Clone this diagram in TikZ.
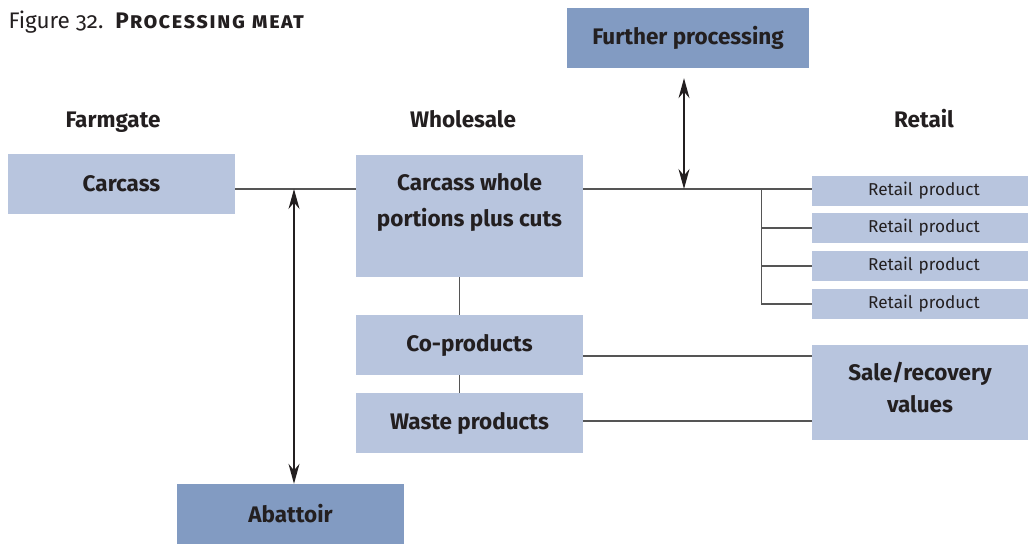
\documentclass[tikz,border=0pt]{standalone}
\usepackage{fontspec}
\setmainfont{Fira Sans}
\usetikzlibrary{arrows.meta,positioning}

\definecolor{boxlight}{RGB}{184,197,222}
\definecolor{boxdark}{RGB}{130,155,194}
\definecolor{inkdark}{RGB}{35,31,32}
\definecolor{linegrey}{RGB}{85,85,85}

\tikzset{
  box/.style={fill=boxlight, minimum width=227pt, minimum height=60pt,
    inner sep=0pt, text=inkdark, align=center,
    font=\bfseries\fontsize{22.5}{32}\selectfont},
  darkbox/.style={box, fill=boxdark},
  retail/.style={fill=boxlight, minimum width=216pt, minimum height=30pt,
    inner sep=0pt, text=inkdark, font=\fontsize{17.2}{19}\selectfont},
  head/.style={text=inkdark, anchor=base, font=\bfseries\fontsize{22.5}{24}\selectfont},
  link/.style={draw=linegrey, line width=1.1pt},
  twoway/.style={{Stealth[length=20pt,width=11pt]}-{Stealth[length=20pt,width=11pt]},
    draw=inkdark, line width=1.3pt}
}

\begin{document}
\begin{tikzpicture}[x=1pt,y=-1pt]
  \useasboundingbox (0,0) rectangle (1028,546);

  % title and column heads
  \node[anchor=base west, text=inkdark, font=\fontsize{22.5}{24}\selectfont] (title) at (5,28)
    {{\addfontfeatures{Numbers=OldStyle}Figure 32.}\ \ \textbf{\addfontfeatures{LetterSpace=6}\textsc{Processing meat}}};
  \node[head] (farmgate) at (113,127) {Farmgate};
  \node[head] (wholesale) at (463,127) {Wholesale};
  \node[head] (retailhead) at (924,127) {Retail};

  % boxes
  \node[box] (carcass) at (121.5,184) {Carcass};
  \node[box, minimum height=122pt,
    label={[text=inkdark, align=center, font=\bfseries\fontsize{22.5}{36}\selectfont,
      below=15pt]north:{Carcass whole\\portions plus cuts}}] (whole) at (469.5,216) {};
  \node[box] (coprod) at (469.5,345) {Co-products};
  \node[box] (waste) at (469.5,423) {Waste products};
  \node[darkbox, minimum width=242pt] (further) at (688,38) {Further processing};
  \node[darkbox] (abattoir) at (290.5,514) {Abattoir};
  \node[box, minimum width=216pt, minimum height=95pt, text depth=10pt]
    (sale) at (920,392.5) {Sale/recovery\\values};
  \foreach \i/\y in {1/191,2/228,3/266,4/304}
    \node[retail, text width=216pt, align=center] (r\i) at (920,\y) {\hspace*{8pt}Retail product};

  % main line
  \coordinate (mainleft) at ([yshift=-5pt]carcass.east);
  \coordinate (mainright) at ([yshift=-5pt]whole.east |- carcass.east);
  \draw[link] (mainleft) -- (mainleft -| whole.west);
  \draw[link] (mainright) -- (mainright -| r1.west);

  % retail fork
  \coordinate (fork) at ([xshift=-50pt]mainright -| r1.west);
  \draw[link] (fork) |- (r4.west);
  \foreach \i in {2,3}
    \draw[link] (fork |- r\i.west) -- (r\i.west);

  % two-way arrows
  \coordinate (abjoin) at ([xshift=3.5pt]mainleft -| abattoir.north);
  \draw[twoway] (abjoin) -- (abjoin |- abattoir.north);
  \coordinate (fpjoin) at ([xshift=-4pt]mainright -| further.south);
  \draw[twoway] ([yshift=-10pt]fpjoin |- further.south) -- (fpjoin);

  % by-products
  \draw[link] ([xshift=-10pt]whole.south) -- ([xshift=-10pt]coprod.north);
  \draw[link] ([xshift=-10pt]coprod.south) -- ([xshift=-10pt]waste.north);
  \draw[link] ([yshift=-11pt]coprod.east) -- ([yshift=-11pt]coprod.east -| sale.west);
  \draw[link] ([yshift=2pt]waste.east) -- ([yshift=2pt]waste.east -| sale.west);
\end{tikzpicture}
\end{document}
